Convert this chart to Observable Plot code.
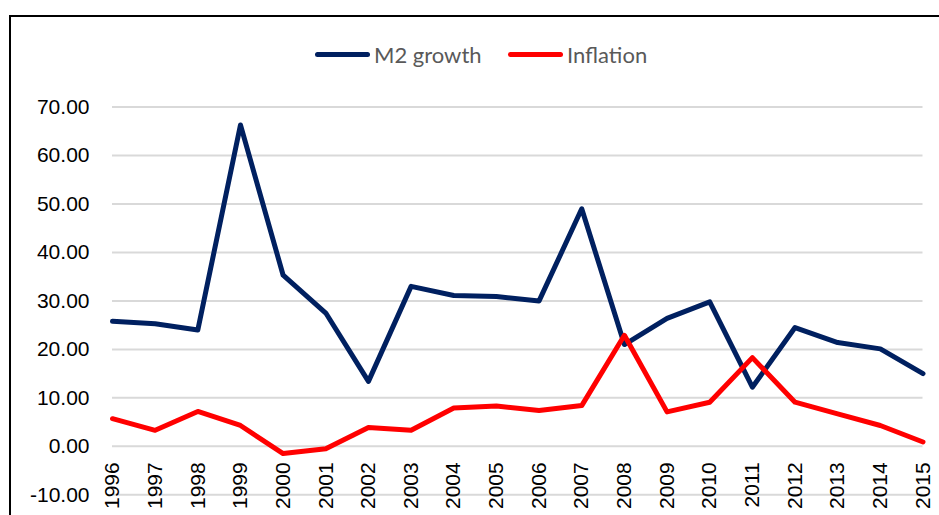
<!DOCTYPE html>
<html>
<head>
<meta charset="utf-8">
<script src="https://cdn.jsdelivr.net/npm/d3@7"></script>
<script src="https://cdn.jsdelivr.net/npm/@observablehq/plot@0.6"></script>
<style>
  html, body { margin: 0; padding: 0; background: #fff; }
  #wrap { position: relative; width: 939px; height: 515px; overflow: hidden; }
  #frame { position: absolute; left: 9px; top: 15px; width: 940px; height: 510px;
           border-left: 2px solid #000; border-top: 2px solid #000; box-sizing: border-box; }
  #chart { position: absolute; left: 0; top: 0; }
  #legend { position: absolute; top: 38px; left: 0; width: 939px; height: 32px;
            font-family: Lato, "Open Sans", sans-serif; font-size: 22px; color: #595959; }
  .item { position: absolute; top: 0; display: flex; align-items: center; height: 32px; }
  .sw { width: 55px; height: 5px; border-radius: 3px; margin-right: 4px; }
</style>
</head>
<body>
<div id="wrap">
  <div id="frame"></div>
  <div id="chart"></div>
  <div id="legend"></div>
</div>
<script>
const years = [1996,1997,1998,1999,2000,2001,2002,2003,2004,2005,2006,2007,2008,2009,2010,2011,2012,2013,2014,2015];
const m2Growth = [25.8,25.3,24.0,66.3,35.3,27.5,13.4,33.0,31.1,30.9,30.0,49.0,21.0,26.4,29.8,12.2,24.5,21.4,20.1,15.0];
const inflation = [5.7,3.3,7.2,4.3,-1.5,-0.5,3.9,3.3,7.9,8.3,7.4,8.4,22.9,7.1,9.1,18.3,9.1,6.7,4.3,0.9];
const seriesNames = ["M2 growth", "Inflation"];
const seriesColors = ["#002060", "#ff0000"];
const yTicks = [-10,0,10,20,30,40,50,60,70];

const rows = [];
years.forEach((y, i) => {
  rows.push({year: y, value: m2Growth[i], series: seriesNames[0]});
  rows.push({year: y, value: inflation[i], series: seriesNames[1]});
});

const plot = Plot.plot({
  width: 939,
  height: 515,
  marginLeft: 112,
  marginRight: 16.5,
  marginTop: 106.5,
  marginBottom: 20.7,
  style: {fontFamily: "'Liberation Sans', Arial, sans-serif", fontSize: "21px", color: "#000", background: "transparent"},
  x: {type: "linear", domain: [years[0], years[years.length - 1]], axis: null},
  y: {domain: [-10, 70], axis: null},
  color: {domain: seriesNames, range: seriesColors},
  marks: [
    Plot.ruleY(yTicks, {stroke: "#d9d9d9", strokeWidth: 2}),
    Plot.axisY(yTicks, {label: null, tickSize: 0, tickPadding: 23, tickFormat: d => d.toFixed(2), fontSize: 21, fill: "#000"}),
    Plot.text(years, {x: d => d, y: 0, text: d => String(d), rotate: -90, textAnchor: "end", dy: 16, fontSize: 21, fill: "#000"}),
    Plot.line(rows, {x: "year", y: "value", z: "series", stroke: "series", strokeWidth: 5, strokeLinejoin: "round", strokeLinecap: "round"})
  ]
});
document.getElementById("chart").appendChild(plot);

const legend = document.getElementById("legend");
const lefts = [315, 508];
seriesNames.forEach((name, i) => {
  const item = document.createElement("div");
  item.className = "item";
  item.style.left = lefts[i] + "px";
  const sw = document.createElement("div");
  sw.className = "sw";
  sw.style.background = seriesColors[i];
  const label = document.createElement("span");
  label.textContent = name;
  item.appendChild(sw);
  item.appendChild(label);
  legend.appendChild(item);
});
</script>
</body>
</html>
